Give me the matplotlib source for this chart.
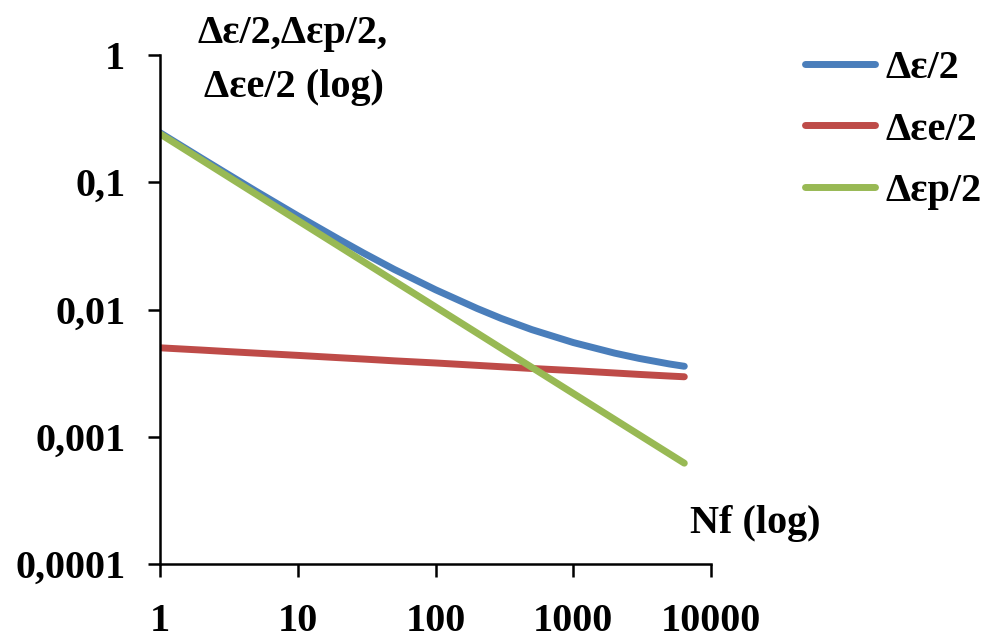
import numpy as np
import matplotlib
matplotlib.use("Agg")
import matplotlib.pyplot as plt
from matplotlib.ticker import FixedLocator, FixedFormatter, NullLocator

# ---- data ----
n_cycles = [1, 2, 3, 5, 10, 20, 30, 50, 100, 200, 300, 500,
            1000, 2000, 3000, 5000, 6400]
total_amp = [0.245, 0.1546, 0.1184, 0.0848, 0.0545, 0.0355, 0.0278, 0.0207,
             0.0143, 0.0102, 0.00851, 0.00695, 0.00550, 0.00454, 0.00413,
             0.00373, 0.00358]
elastic_amp = [0.00500, 0.00480, 0.00468, 0.00454, 0.00436, 0.00418, 0.00408,
               0.00395, 0.00380, 0.00364, 0.00355, 0.00344, 0.00331, 0.00317,
               0.00309, 0.00300, 0.00296]
plastic_amp = [0.240, 0.1498, 0.1137, 0.0803, 0.0501, 0.0313, 0.02376, 0.01678,
               0.01048, 0.00654, 0.00496, 0.00351, 0.00219, 0.001366, 0.001037,
               0.000733, 0.00062]

x_ticks = [1, 10, 100, 1000, 10000]
x_labels = ["1", "10", "100", "1000", "10000"]
y_ticks = [0.0001, 0.001, 0.01, 0.1, 1]
y_labels = ["0,0001", "0,001", "0,01", "0,1", "1"]

series_names = ["Δε/2", "Δεe/2", "Δεp/2"]
colors = ["#4A7EBB", "#BE4B48", "#98B954"]

# ---- style ----
plt.rcParams["font.family"] = ["Liberation Serif", "DejaVu Serif"]
plt.rcParams["font.weight"] = "bold"
fs = 29

fig = plt.figure(figsize=(9.83, 6.44), dpi=100)
ax = fig.add_axes([160 / 983, 1 - 564 / 644, 551 / 983, 509 / 644])

for y, name, c in zip([total_amp, elastic_amp, plastic_amp], series_names, colors):
    ax.plot(n_cycles, y, color=c, lw=5, solid_capstyle="round", label=name)

ax.set_xscale("log")
ax.set_yscale("log")
ax.set_xlim(1, 10000)
ax.set_ylim(0.0001, 1)

ax.xaxis.set_major_locator(FixedLocator(x_ticks))
ax.xaxis.set_major_formatter(FixedFormatter(x_labels))
ax.yaxis.set_major_locator(FixedLocator(y_ticks))
ax.yaxis.set_major_formatter(FixedFormatter(y_labels))
ax.xaxis.set_minor_locator(NullLocator())
ax.yaxis.set_minor_locator(NullLocator())

for s in ["top", "right"]:
    ax.spines[s].set_visible(False)
for s in ["left", "bottom"]:
    ax.spines[s].set_linewidth(1.8)
    ax.spines[s].set_color("black")

ax.tick_params(axis="both", direction="out", length=9, width=1.8,
               labelsize=fs)
ax.tick_params(axis="x", pad=19)
ax.tick_params(axis="y", pad=16)
for lab in ax.get_xticklabels() + ax.get_yticklabels():
    lab.set_fontweight("bold")

# axis titles placed like the original
fig.text(293 / 983, 1 - 43 / 644, "Δε/2,Δεp/2,", ha="center", va="baseline",
         fontsize=fs, fontweight="bold")
fig.text(294 / 983, 1 - 97 / 644, "Δεe/2 (log)", ha="center", va="baseline",
         fontsize=fs, fontweight="bold")
fig.text(690 / 983, 1 - 533 / 644, "Nf (log)", ha="left", va="baseline",
         fontsize=fs, fontweight="bold")

leg = ax.legend(loc="upper left", bbox_to_anchor=(805 / 983, 1 - 50 / 644),
                bbox_transform=fig.transFigure, frameon=False,
                prop={"size": fs, "weight": "bold"}, handlelength=1.75,
                handletextpad=0.25, labelspacing=0.6, borderpad=0,
                borderaxespad=0)

fig.savefig("out.png", dpi=100)
